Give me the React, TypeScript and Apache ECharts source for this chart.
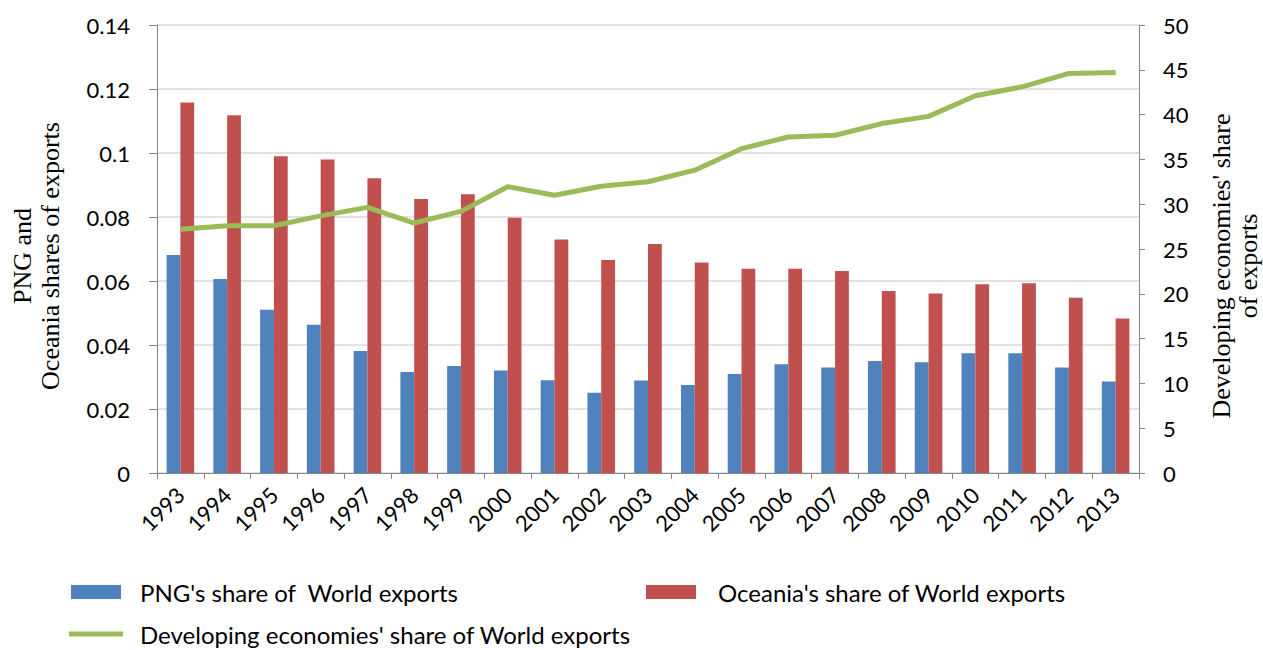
import React, { useEffect, useRef } from "react";
import * as echarts from "echarts";

const years = ["1993","1994","1995","1996","1997","1998","1999","2000","2001","2002","2003","2004","2005","2006","2007","2008","2009","2010","2011","2012","2013"];
const pngShare = [0.0681,0.0606,0.0510,0.0463,0.0381,0.0316,0.0334,0.0320,0.0290,0.0251,0.0289,0.0275,0.0309,0.0340,0.0330,0.0350,0.0346,0.0374,0.0374,0.0330,0.0286];
const oceaniaShare = [0.1158,0.1118,0.0990,0.0980,0.0921,0.0856,0.0871,0.0798,0.0730,0.0666,0.0716,0.0658,0.0638,0.0638,0.0631,0.0569,0.0561,0.0590,0.0593,0.0548,0.0483];
const developingShare = [27.2,27.6,27.6,28.7,29.65,27.9,29.2,31.95,31.0,32.0,32.5,33.8,36.2,37.5,37.7,39.0,39.8,42.1,43.1,44.6,44.7];

const seriesNames = ["PNG's share of  World exports", "Oceania's share of World exports", "Developing economies' share of World exports"];
const leftAxisTitle = "PNG and\nOceania shares of exports";
const rightAxisTitle = "Developing economies' share\nof exports";

const SANS = "Lato, 'Liberation Sans', sans-serif";
const SERIF = "'Liberation Serif', 'DejaVu Serif', serif";
const AXIS_GRAY = "#868686";

export default function App() {
  const ref = useRef<HTMLDivElement>(null);
  useEffect(() => {
    if (!ref.current) return;
    const chart = echarts.init(ref.current, undefined, { renderer: "svg" });
    const legendText = { color: "#000", fontFamily: SANS, fontSize: 24, lineHeight: 26 };
    chart.setOption({
      animation: false,
      backgroundColor: "#fff",
      grid: { left: 157, right: 124, top: 25, bottom: 177, containLabel: false },
      legend: [
        {
          data: [seriesNames[0]], left: 71, top: 579, padding: 0, icon: "rect",
          itemWidth: 50, itemHeight: 14, selectedMode: false,
          textStyle: { ...legendText, padding: [0, 0, 0, 14] },
        },
        {
          data: [seriesNames[1]], left: 646, top: 579, padding: 0, icon: "rect",
          itemWidth: 50, itemHeight: 14, selectedMode: false,
          textStyle: { ...legendText, padding: [0, 0, 0, 17] },
        },
        {
          data: [seriesNames[2]], left: 69, top: 621, padding: 0, icon: "rect",
          itemWidth: 54, itemHeight: 5, selectedMode: false,
          textStyle: { ...legendText, padding: [0, 0, 0, 12] },
        },
      ],
      xAxis: {
        type: "category",
        data: years,
        axisLine: { lineStyle: { color: AXIS_GRAY, width: 1 } },
        axisTick: { show: true, length: 6, alignWithLabel: false, lineStyle: { color: AXIS_GRAY } },
        axisLabel: { rotate: 45, margin: 18, color: "#000", fontFamily: SANS, fontSize: 22, interval: 0 },
        splitLine: { show: false },
      },
      yAxis: [
        {
          type: "value", min: 0, max: 0.14, interval: 0.02, position: "left",
          axisLine: { show: true, lineStyle: { color: AXIS_GRAY } },
          axisTick: { show: true, length: 8, lineStyle: { color: AXIS_GRAY } },
          axisLabel: {
            margin: 27, color: "#000", fontFamily: SANS, fontSize: 22,
            formatter: (v: number) => String(+v.toFixed(2)),
          },
          splitLine: { show: true, lineStyle: { color: "#d9d9d9", width: 1.5 } },
        },
        {
          type: "value", min: 0, max: 50, interval: 5, position: "right",
          axisLine: { show: true, lineStyle: { color: AXIS_GRAY } },
          axisTick: { show: true, length: 6, lineStyle: { color: AXIS_GRAY } },
          axisLabel: { margin: 24, color: "#000", fontFamily: SANS, fontSize: 22 },
          splitLine: { show: false },
        },
      ],
      series: [
        {
          name: seriesNames[0], type: "bar", data: pngShare, yAxisIndex: 0,
          itemStyle: { color: "#4F81BD" }, barGap: "0%", barCategoryGap: "41%",
        },
        {
          name: seriesNames[1], type: "bar", data: oceaniaShare, yAxisIndex: 0,
          itemStyle: { color: "#C0504D" }, barGap: "0%", barCategoryGap: "41%",
        },
        {
          name: seriesNames[2], type: "line", data: developingShare, yAxisIndex: 1,
          symbol: "none", lineStyle: { color: "#9BBB59", width: 5 }, itemStyle: { color: "#9BBB59" },
        },
      ],
      graphic: [
        {
          type: "text", x: 36, y: 256, rotation: Math.PI / 2,
          style: {
            text: leftAxisTitle, fontFamily: SERIF, fontSize: 26, lineHeight: 28,
            fill: "#000", align: "center", verticalAlign: "middle",
          },
        },
        {
          type: "text", x: 1235, y: 266, rotation: Math.PI / 2,
          style: {
            text: rightAxisTitle, fontFamily: SERIF, fontSize: 26, lineHeight: 27,
            fill: "#000", align: "center", verticalAlign: "middle",
          },
        },
      ],
    });
    return () => chart.dispose();
  }, []);
  return (
    <div
      ref={ref}
      style={{ position: "fixed", left: 0, top: 0, width: 1263, height: 650, background: "#fff" }}
    />
  );
}
